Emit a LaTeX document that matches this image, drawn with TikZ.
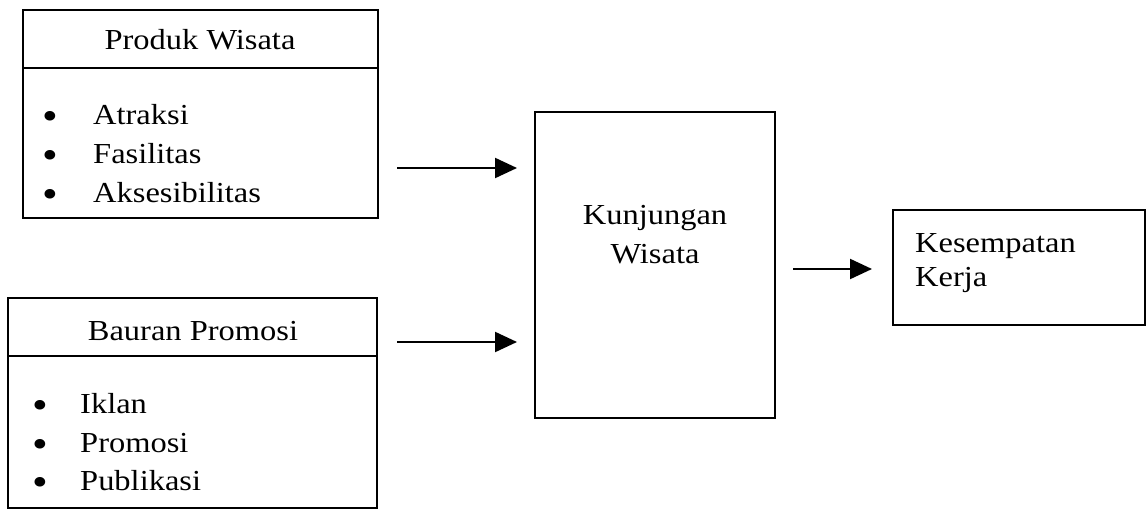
\documentclass[tikz,border=0pt]{standalone}
\usepackage{fontspec}
\setmainfont{Liberation Serif}[FakeStretch=1.12]
\usetikzlibrary{arrows.meta}
\begin{document}
\begin{tikzpicture}[x=1pt,y=-1pt,
  box/.style={draw, line width=1.9pt, inner sep=0pt},
  txt/.style={inner sep=0pt, anchor=base west, font=\fontsize{29}{35}\selectfont},
  ctxt/.style={inner sep=0pt, anchor=base, font=\fontsize{29}{35}\selectfont},
  bul/.style={inner sep=0pt, anchor=base west, font=\fontsize{40}{40}\selectfont},
  arr/.style={line width=2.2pt, -{Triangle[length=22pt,width=20pt]}}]
\useasboundingbox (0,0) rectangle (1146,513);
% Box 1
\node[box, minimum width=355pt, minimum height=208pt] (b1) at (200.5,114) {};
\draw[line width=1.9pt] (b1.west |- 0,68) coordinate (d1a) -- (b1.east |- 0,68) coordinate (d1b);
\node[ctxt] (t1) at (200,50) {Produk Wisata};
\node[bul] (p1) at (42,130) {•};
\node[bul] (p2) at (42,169) {•};
\node[bul] (p3) at (42,208) {•};
\node[txt] (l1) at (93,125) {Atraksi};
\node[txt] (l2) at (93,164) {Fasilitas};
\node[txt] (l3) at (93,203) {Aksesibilitas};
% Box 2
\node[box, minimum width=369pt, minimum height=210pt] (b2) at (192.5,403) {};
\draw[line width=1.9pt] (b2.west |- 0,356) coordinate (d2a) -- (b2.east |- 0,356) coordinate (d2b);
\node[ctxt] (t2) at (193,340) {Bauran Promosi};
\node[bul] (q1) at (32,418) {•};
\node[bul] (q2) at (32,457) {•};
\node[bul] (q3) at (32,495) {•};
\node[txt] (m1) at (80,413) {Iklan};
\node[txt] (m2) at (80,452) {Promosi};
\node[txt] (m3) at (80,490) {Publikasi};
% Box 3
\node[box, minimum width=240pt, minimum height=306pt] (b3) at (655,265) {};
\node[ctxt] (k1) at (655,225) {Kunjungan};
\node[ctxt] (k2) at (655,263) {Wisata};
% Box 4
\node[box, minimum width=252pt, minimum height=115pt] (b4) at (1019,267.5) {};
\node[txt] (s1) at (915,252) {Kesempatan};
\node[txt] (s2) at (915,287) {Kerja};
% Arrows
\coordinate (a1s) at (397,168);
\coordinate (a1e) at (517,168);
\coordinate (a2s) at (397,342);
\coordinate (a2e) at (517,342);
\coordinate (a3s) at (793,269);
\coordinate (a3e) at (872,269);
\draw[arr] (a1s) -- (a1e);
\draw[arr] (a2s) -- (a2e);
\draw[arr] (a3s) -- (a3e);
\end{tikzpicture}
\end{document}
